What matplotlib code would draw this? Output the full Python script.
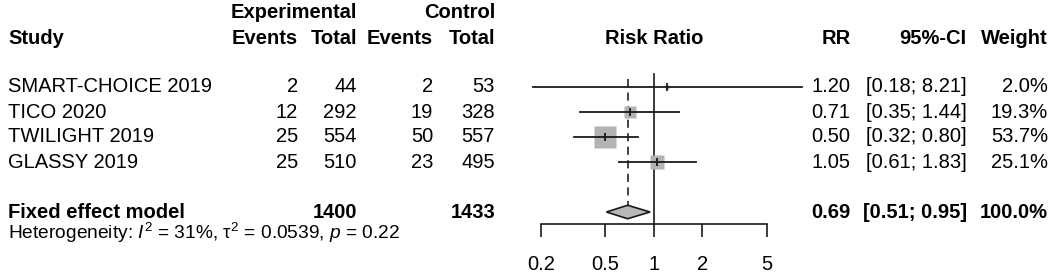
import numpy as np
import matplotlib
matplotlib.use("Agg")
import matplotlib.pyplot as plt
import matplotlib.transforms as mtrans

plt.rcParams['font.family'] = ['Liberation Sans', 'DejaVu Sans']
plt.rcParams['mathtext.fontset'] = 'custom'
plt.rcParams['mathtext.rm'] = 'Liberation Sans'
plt.rcParams['mathtext.it'] = 'Liberation Sans:italic'

# ---- data ----
studies = ["SMART-CHOICE 2019", "TICO 2020", "TWILIGHT 2019", "GLASSY 2019"]
exp_events = [2, 12, 25, 25]
exp_total = [44, 292, 554, 510]
ctrl_events = [2, 19, 50, 23]
ctrl_total = [53, 328, 557, 495]
rr = [1.20, 0.71, 0.50, 1.05]
ci_lo = [0.18, 0.35, 0.32, 0.61]
ci_hi = [8.21, 1.44, 0.80, 1.83]
weight = [2.0, 19.3, 53.7, 25.1]

pooled_rr, pooled_lo, pooled_hi = 0.69, 0.51, 0.95
pooled_weight = 100.0
pooled_exp_total, pooled_ctrl_total = 1400, 1433
het_i2, het_tau2, het_p = 31, 0.0539, 0.22

xticks = [0.2, 0.5, 1, 2, 5]

W, H = 1053, 274
fig = plt.figure(figsize=(W / 100, H / 100), dpi=100)

# forest panel, bottom spine is the x axis
x0, x1 = 540.7, 766.7
ybase = 224.3
ax = fig.add_axes([x0 / W, (H - ybase) / H, (x1 - x0) / W, ybase / H])
ax.set_xscale('log')
ax.set_xlim(0.2, 5)
row0, rowh = 87.0, 25.0
ax.set_ylim((ybase - row0) / rowh, -row0 / rowh)
for s in ['top', 'left', 'right']:
    ax.spines[s].set_visible(False)
ax.spines['bottom'].set_linewidth(1.2)
ax.spines['bottom'].set_color('#1a1a1a')
ax.set_xticks(xticks)
ax.set_xticklabels([f"{t:g}" for t in xticks])
ax.xaxis.set_minor_locator(matplotlib.ticker.NullLocator())
ax.tick_params(axis='x', direction='out', length=9, width=1.2, pad=13,
               labelsize=14.5, color='#1a1a1a')
ax.set_yticks([])
ax.patch.set_visible(False)

lc = '#1a1a1a'
rows = np.arange(len(studies))
fixed_row = len(studies) + 1

# reference line at 1 and pooled dashed line
ax.plot([1, 1], [-0.52, (ybase - row0) / rowh], color=lc, lw=1.2, clip_on=False)
ax.plot([pooled_rr, pooled_rr], [-0.31, fixed_row - 0.27], color='#333333',
        lw=1.3, linestyle=(0, (4.5, 3)))

for i in rows:
    ax.plot([ci_lo[i], ci_hi[i]], [i, i], color=lc, lw=1.3, clip_on=False, zorder=3)
    ms = 15.2 * np.sqrt(weight[i] / max(weight))
    ax.plot(rr[i], i, marker='s', ms=ms, color='#b3b3b3', mec='none', zorder=2,
            clip_on=False)
    ax.plot(rr[i], i, marker='|', ms=6, mew=1.3, color=lc, zorder=4, clip_on=False)

# pooled diamond
dh = 0.27
ax.fill([pooled_lo, pooled_rr, pooled_hi, pooled_rr],
        [fixed_row, fixed_row - dh, fixed_row, fixed_row + dh],
        facecolor='#b8b8b8', edgecolor=lc, lw=1.2, zorder=3)

# ---- text columns ----
tr = mtrans.blended_transform_factory(fig.transFigure, ax.transData)
fs = 14.5


def put(xpx, row, s, ha='right', bold=False, size=fs):
    fig.text(xpx / W, row, s, transform=tr, ha=ha, va='center', fontsize=size,
             fontweight='bold' if bold else 'normal', color='black')


hdr1 = (13 - row0) / rowh
hdr2 = (38 - row0) / rowh
put(357, hdr1, "Experimental", bold=True)
put(495, hdr1, "Control", bold=True)
put(8, hdr2, "Study", ha='left', bold=True)
put(298, hdr2, "Events", bold=True)
put(357, hdr2, "Total", bold=True)
put(433, hdr2, "Events", bold=True)
put(495, hdr2, "Total", bold=True)
put((x0 + x1) / 2, hdr2, "Risk Ratio", ha='center', bold=True)
put(850.7, hdr2, "RR", bold=True)
put(966.7, hdr2, "95%-CI", bold=True)
put(1048, hdr2, "Weight", bold=True)

for i in rows:
    put(8, i, studies[i], ha='left')
    put(298, i, str(exp_events[i]))
    put(357, i, str(exp_total[i]))
    put(433, i, str(ctrl_events[i]))
    put(495, i, str(ctrl_total[i]))
    put(850.7, i, f"{rr[i]:.2f}")
    put(966.7, i, f"[{ci_lo[i]:.2f}; {ci_hi[i]:.2f}]")
    put(1048, i, f"{weight[i]:.1f}%")

put(8, fixed_row, "Fixed effect model", ha='left', bold=True)
put(357, fixed_row, str(pooled_exp_total), bold=True)
put(495, fixed_row, str(pooled_ctrl_total), bold=True)
put(850.7, fixed_row, f"{pooled_rr:.2f}", bold=True)
put(966.7, fixed_row, f"[{pooled_lo:.2f}; {pooled_hi:.2f}]", bold=True)
put(1048, fixed_row, f"{pooled_weight:.1f}%", bold=True)

het_row = (232.5 - row0) / rowh
put(8, het_row,
    f"Heterogeneity: $I^2$ = {het_i2}%, τ$^2$ = {het_tau2}, $p$ = {het_p}",
    ha='left', size=13.8)

fig.savefig("out.png", dpi=100)
